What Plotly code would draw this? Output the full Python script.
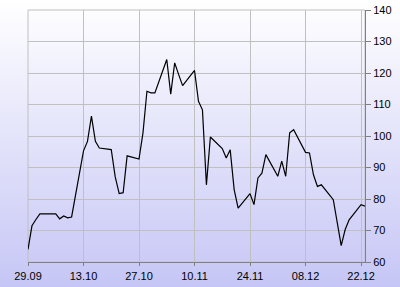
import base64
import plotly.graph_objects as go

dates = ["2008-09-29", "2008-09-30", "2008-10-01", "2008-10-02", "2008-10-03",
         "2008-10-06", "2008-10-07", "2008-10-08", "2008-10-09", "2008-10-10",
         "2008-10-13", "2008-10-14", "2008-10-15", "2008-10-16", "2008-10-17",
         "2008-10-20", "2008-10-21", "2008-10-22", "2008-10-23", "2008-10-24",
         "2008-10-27", "2008-10-28", "2008-10-29", "2008-10-30", "2008-10-31",
         "2008-11-03", "2008-11-04", "2008-11-05", "2008-11-06", "2008-11-07",
         "2008-11-10", "2008-11-11", "2008-11-12", "2008-11-13", "2008-11-14",
         "2008-11-17", "2008-11-18", "2008-11-19", "2008-11-20", "2008-11-21",
         "2008-11-24", "2008-11-25", "2008-11-26", "2008-11-27", "2008-11-28",
         "2008-12-01", "2008-12-02", "2008-12-03", "2008-12-04", "2008-12-05",
         "2008-12-08", "2008-12-09", "2008-12-10", "2008-12-11", "2008-12-12",
         "2008-12-15", "2008-12-16", "2008-12-17", "2008-12-18", "2008-12-19",
         "2008-12-22", "2008-12-23"]

values = [64.0, 71.5, 73.5, 75.3, 75.3,
          75.3, 73.7, 74.6, 74.0, 74.3,
          95.3, 98.3, 106.3, 98.3, 96.2,
          95.7, 87.0, 81.7, 82.0, 93.7,
          92.7, 101.0, 114.2, 113.7, 113.7,
          124.3, 113.3, 123.2, 119.5, 116.0,
          120.8, 111.0, 108.3, 84.5, 99.7,
          96.0, 93.0, 95.6, 83.0, 77.1,
          81.7, 78.2, 86.7, 88.2, 94.1,
          87.2, 92.0, 87.2, 101.0, 102.0,
          94.8, 94.6, 87.7, 84.0, 84.5,
          79.8, 72.5, 65.2, 70.3, 73.4,
          78.2, 77.7]

x_ticks = ["2008-09-29", "2008-10-13", "2008-10-27", "2008-11-10",
           "2008-11-24", "2008-12-08", "2008-12-22"]
x_range = ["2008-09-29", "2008-12-23"]
y_range = [60, 140]

W, H = 400, 287
ML, MR, MT, MB = 28, 35, 10, 25
PW, PH = W - ML - MR, H - MT - MB

svg = ('<svg xmlns="http://www.w3.org/2000/svg" width="400" height="287" '
       'preserveAspectRatio="none" viewBox="0 0 400 287">'
       '<defs><linearGradient id="g" x1="0" y1="0" x2="0" y2="1">'
       '<stop offset="0" stop-color="#ffffff"/>'
       '<stop offset="1" stop-color="#c6c6f6"/>'
       '</linearGradient></defs>'
       '<rect width="400" height="287" fill="url(#g)"/></svg>')
src = "data:image/svg+xml;base64," + base64.b64encode(svg.encode()).decode()

fig = go.Figure()
fig.add_trace(go.Scatter(x=dates, y=values, mode="lines",
                         line=dict(color="#000000", width=1.2),
                         hoverinfo="skip"))

fig.update_layout(
    width=W, height=H,
    margin=dict(l=ML, r=MR, t=MT, b=MB, pad=0, autoexpand=False),
    paper_bgcolor="rgba(0,0,0,0)",
    plot_bgcolor="rgba(0,0,0,0)",
    showlegend=False,
    font=dict(family="Liberation Sans, Arial, sans-serif", size=11, color="#000000"),
    images=[dict(source=src, xref="paper", yref="paper",
                 x=-ML / PW, y=1 + MT / PH, sizex=W / PW, sizey=H / PH,
                 xanchor="left", yanchor="top", sizing="stretch",
                 layer="below")],
    shapes=[dict(type="rect", xref="paper", yref="paper", x0=0, x1=1, y0=0, y1=1,
                 line=dict(color="#c0c0c0", width=1), layer="below")],
    xaxis=dict(type="date", range=x_range, tickvals=x_ticks,
               tickformat="%d.%m", showgrid=True, gridcolor="#c0c0c0",
               gridwidth=1, showline=True, linecolor="#808080", linewidth=1,
               ticks="outside", ticklen=3, tickcolor="#808080",
               ticklabelstandoff=1, automargin=False,
               zeroline=False, fixedrange=True),
    yaxis=dict(range=y_range, dtick=10, side="right", showgrid=True,
               gridcolor="#c0c0c0", gridwidth=1, showline=True,
               linecolor="#808080", linewidth=1, ticks="outside", ticklen=5,
               tickcolor="#808080", automargin=False,
               zeroline=False, fixedrange=True),
)

fig.write_html("out.html", config={"displayModeBar": False})
